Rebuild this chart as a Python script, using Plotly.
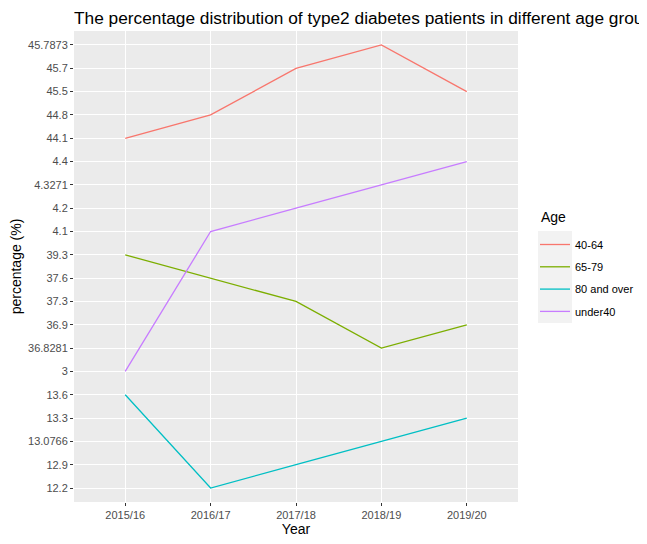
import plotly.graph_objects as go

years = ["2015/16", "2016/17", "2017/18", "2018/19", "2019/20"]
age_40_64 = ["44.1", "44.8", "45.7", "45.7873", "45.5"]
age_65_79 = ["39.3", "37.6", "37.3", "36.8281", "36.9"]
age_80_over = ["13.6", "12.2", "12.9", "13.0766", "13.3"]
age_under40 = ["3", "4.1", "4.2", "4.3271", "4.4"]

series = [
    ("40-64", age_40_64, "#F8766D"),
    ("65-79", age_65_79, "#7CAE00"),
    ("80 and over", age_80_over, "#00BFC4"),
    ("under40", age_under40, "#C77CFF"),
]

# discrete y axis sorted lexicographically (as in the original)
y_levels = sorted(set(age_40_64 + age_65_79 + age_80_over + age_under40))

fig = go.Figure()
for name, vals, col in series:
    fig.add_trace(go.Scatter(x=years, y=vals, mode="lines", name=name,
                             legendgroup=name,
                             line=dict(color=col, width=1.3)))

W, H = 647, 544
OFF = 8  # page body margin offset
L, R, T, B = 74 - OFF, 518 - OFF, 31 - OFF, 502 - OFF
pw, ph = R - L, B - T


def px(x):
    return (x - OFF - L) / pw


def py(y):
    return (B - (y - OFF)) / ph


fig.update_layout(
    width=W, height=H,
    margin=dict(l=L, r=W - R, t=T, b=H - B, autoexpand=False),
    paper_bgcolor="white", plot_bgcolor="#EBEBEB",
    font=dict(family="Liberation Sans, Arial, sans-serif", color="#4D4D4D"),
    title=dict(text="The percentage distribution of type2 diabetes patients in different age groups",
               x=(75 - OFF - 1) / W, xref="container", xanchor="left",
               y=1 - (18 - OFF) / H, yref="container", yanchor="middle",
               font=dict(size=17.3, color="black")),
    xaxis=dict(type="category", categoryorder="array", categoryarray=years,
               range=[-0.6, len(years) - 0.4],
               showgrid=True, gridcolor="white", gridwidth=1.1,
               ticks="outside", ticklen=3, tickcolor="#333333", tickwidth=1,
               tickfont=dict(size=11, color="#4D4D4D"),
               title=dict(text="Year", font=dict(size=14, color="black"), standoff=3),
               zeroline=False, showline=False, automargin=False),
    yaxis=dict(type="category", categoryorder="array", categoryarray=y_levels,
               range=[-0.6, len(y_levels) - 0.4],
               showgrid=True, gridcolor="white", gridwidth=1.1,
               ticks="outside", ticklen=3, tickcolor="#333333", tickwidth=1,
               tickfont=dict(size=11, color="#4D4D4D"),
               title=dict(text="percentage (%)", font=dict(size=14, color="black"), standoff=4),
               zeroline=False, showline=False, automargin=False),
    legend=dict(x=px(535), xanchor="left", y=py(230), yanchor="top",
                bgcolor="rgba(0,0,0,0)",
                font=dict(size=11, color="black"),
                itemwidth=30, tracegroupgap=3.3),
    annotations=[dict(text="Age", xref="paper", yref="paper",
                      x=px(539), y=py(217), xanchor="left", yanchor="middle",
                      showarrow=False, font=dict(size=14, color="black"))],
    shapes=[dict(type="rect", xref="paper", yref="paper",
                 x0=px(538), x1=px(572),
                 y0=py(323), y1=py(231),
                 fillcolor="#F2F2F2", line=dict(width=0), layer="below")],
)

fig.write_html("out.html")
